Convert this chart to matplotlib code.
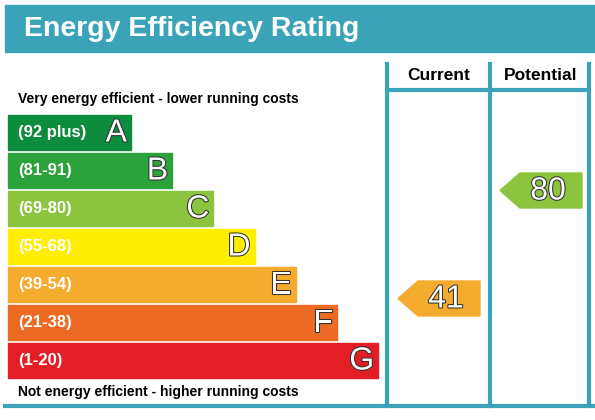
import matplotlib
matplotlib.use("Agg")
import matplotlib.pyplot as plt
from matplotlib.patches import Rectangle, Polygon
import matplotlib.patheffects as pe

letters = ["A", "B", "C", "D", "E", "F", "G"]
ranges = ["(92 plus)", "(81-91)", "(69-80)", "(55-68)", "(39-54)", "(21-38)", "(1-20)"]
colors = ["#0c8c3c", "#2ba23a", "#8cc43f", "#ffee00", "#f5ab2e", "#ec6a24", "#e31e25"]
current = 41
potential = 80
current_band = "E"
potential_band = "C"

teal = "#3aa3b8"
fig = plt.figure(figsize=(5.95, 4.2), dpi=100)
ax = fig.add_axes([0, 0, 1, 1])
ax.set_xlim(0, 595)
ax.set_ylim(420, 0)
ax.axis("off")

# title banner
ax.add_patch(Rectangle((5, 5), 590, 47, color=teal))
ax.text(24, 29, "Energy Efficiency Rating", color="white", fontsize=20.5,
        fontweight="bold", va="center", family="Liberation Sans")

# column lines
for x in [387, 490, 589]:
    ax.plot([x, x], [64, 406], color=teal, lw=3)
for x0, x1 in [(387, 490), (490, 589)]:
    ax.plot([x0, x1], [90, 90], color=teal, lw=3)
ax.plot([5, 595], [406, 406], color=teal, lw=3)
ax.text(439, 75, "Current", fontsize=12.5, fontweight="bold", ha="center", va="center", family="Liberation Sans")
ax.text(541, 75, "Potential", fontsize=12.5, fontweight="bold", ha="center", va="center", family="Liberation Sans")

ax.text(18, 99, "Very energy efficient - lower running costs", fontsize=10,
        fontweight="bold", va="center", family="Liberation Sans")
ax.text(18, 392, "Not energy efficient - higher running costs", fontsize=10,
        fontweight="bold", va="center", family="Liberation Sans")

outline = [pe.withStroke(linewidth=1.5, foreground="#333333")]
for i, (l, r, c) in enumerate(zip(letters, ranges, colors)):
    top = 115 + 38 * i
    right = 131 + 41.2 * i
    ax.add_patch(Rectangle((8, top), right - 8, 35, color=c))
    ax.text(18, top + 17.5, r, color="white", fontsize=12, fontweight="bold",
            va="center", family="Liberation Sans")
    ax.text(right - 4, top + 18.5, l, color="white", fontsize=23, ha="right",
            va="center", family="Liberation Sans", path_effects=outline)


def arrow(x0, x1, top, c, val):
    h = 35
    pts = [(x0, top + h / 2), (x0 + 20, top), (x1, top), (x1, top + h), (x0 + 20, top + h)]
    ax.add_patch(Polygon(pts, color=c))
    ax.text(x1 - 34, top + h / 2 + 1, str(val), color="white", fontsize=23, ha="center",
            va="center", family="Liberation Sans", path_effects=outline)


arrow(398, 480, 115 + 38 * letters.index(current_band) + 166 - 152, colors[letters.index(current_band)], current)
arrow(500, 582, 115 + 38 * letters.index(potential_band) - 18, colors[letters.index(potential_band)], potential)

fig.savefig("out.png", dpi=100)
